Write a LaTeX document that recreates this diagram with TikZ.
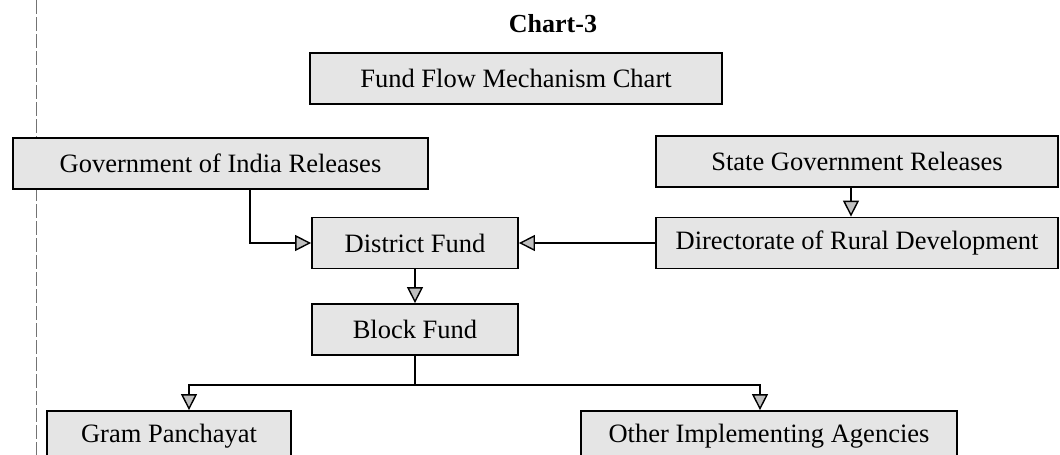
\documentclass[tikz,border=0pt]{standalone}
\usepackage{fontspec}
\setmainfont{Liberation Serif}
\usetikzlibrary{arrows.meta}
\tikzset{
  fbox/.style={draw=black, line width=1.8pt, fill=black!10, inner sep=0pt,
    font=\fontsize{26.5}{30}\selectfont, anchor=center},
  flow/.style={draw=black, line width=1.8pt,
    -{Triangle[length=16pt, width=16pt, fill=black!25, line width=1.4pt]}},
  plain/.style={draw=black, line width=1.8pt},
}
\begin{document}
\begin{tikzpicture}[x=1pt,y=-1pt]
\useasboundingbox (0,0) rectangle (1060,455);
\clip (0,0) rectangle (1060,455);
\draw[black!55, line width=0.8pt, dash pattern=on 14pt off 3pt] (36,0) -- (36,455);

\node[font=\fontsize{26}{30}\selectfont\bfseries] (title) at (553,24) {Chart-3};
\node[fbox, minimum width=412pt, minimum height=51pt] (ffm) at (516,78.5) {Fund Flow Mechanism Chart};
\node[fbox, minimum width=415pt, minimum height=51pt] (goi) at (220.5,163.5) {Government of India Releases};
\node[fbox, minimum width=402pt, minimum height=51pt] (sg) at (857,161.5) {State Government Releases};
\node[fbox, minimum width=402pt, minimum height=51pt] (dir) at (857,243) {Directorate of Rural Development};
\node[fbox, minimum width=206pt, minimum height=51pt] (dist) at (415,243) {District Fund};
\node[fbox, minimum width=206pt, minimum height=51pt] (block) at (415,329.5) {Block Fund};
\node[fbox, minimum width=244pt, minimum height=51pt] (gp) at (169,436.5) {Gram Panchayat};
\node[fbox, minimum width=376pt, minimum height=51pt] (oia) at (769,436.5) {Other Implementing Agencies};

\coordinate (gx) at (250,0);
\coordinate (sgx) at (851,0);
\coordinate (gpx) at (189,0);
\coordinate (oix) at (760,0);
\coordinate (split) at (415,385);

\draw[flow] (goi.south -| gx) |- (dist.west);
\draw[flow] (dir.west) -- (dist.east);
\draw[flow] (sg.south -| sgx) -- (dir.north -| sgx);
\draw[flow] (dist.south) -- (block.north);
\draw[plain] (block.south) -- (split);
\draw[flow] (split) -| (gp.north -| gpx);
\draw[flow] (split) -| (oia.north -| oix);
\end{tikzpicture}
\end{document}
